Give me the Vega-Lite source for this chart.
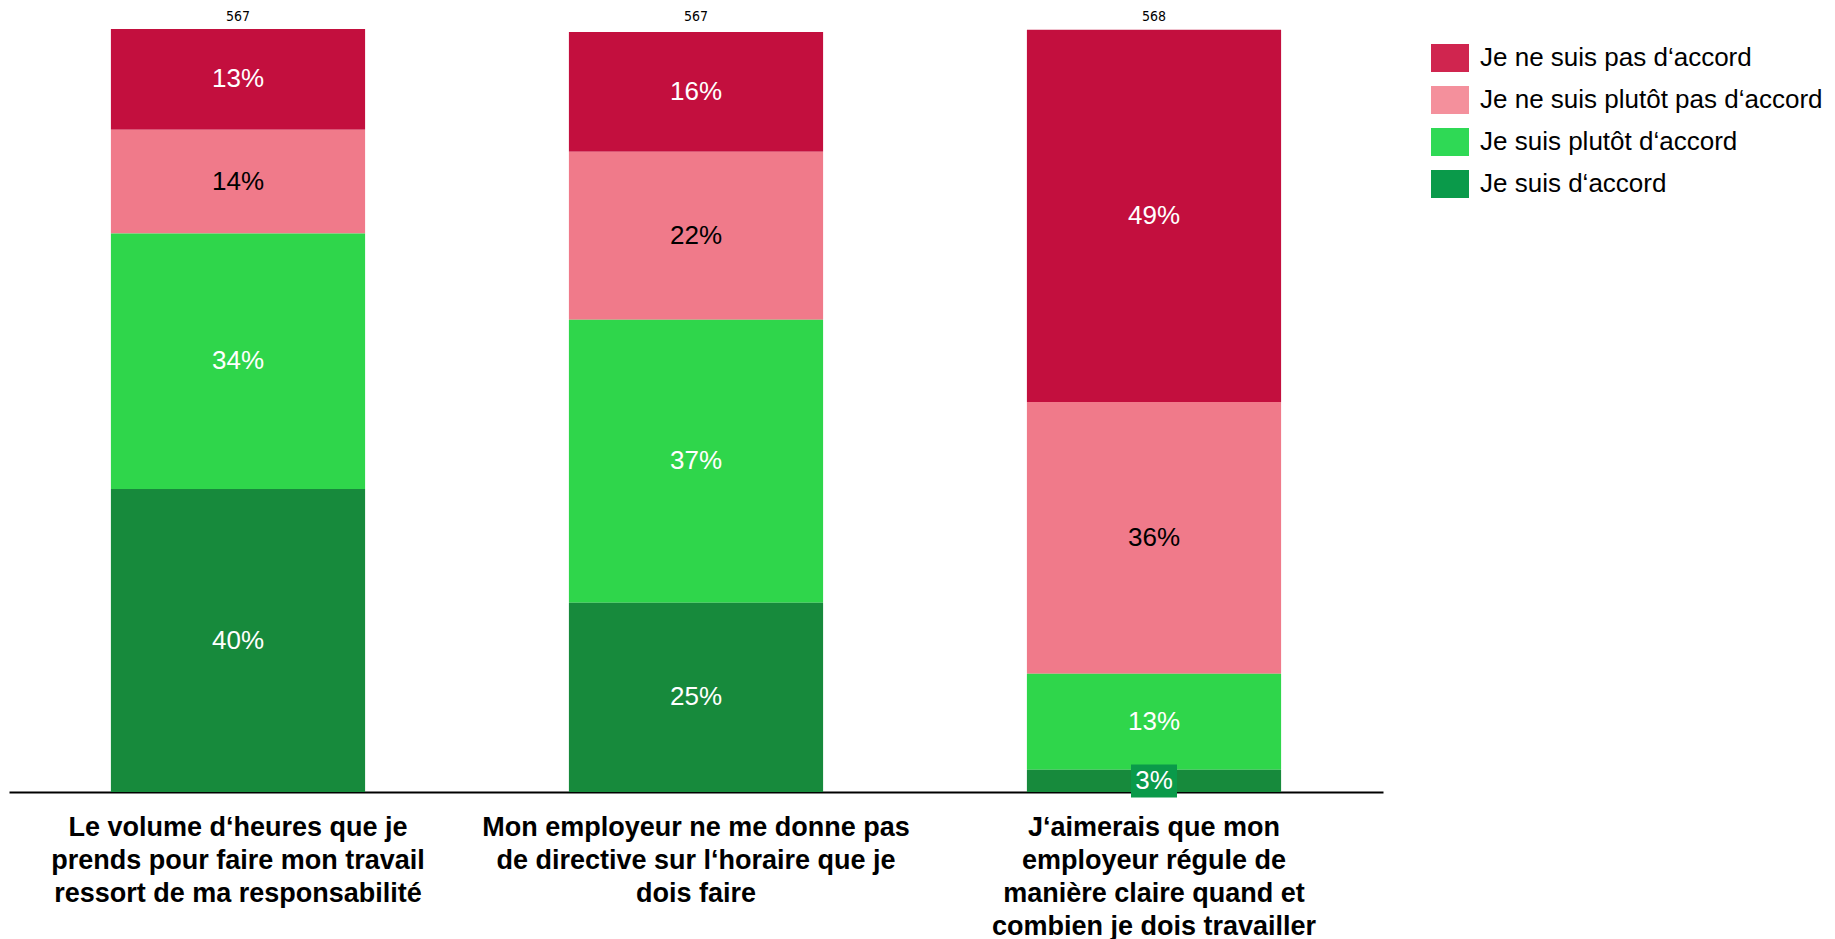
{
  "$schema": "https://vega.github.io/schema/vega-lite/v6.json",
  "width": 1374,
  "height": 763,
  "autosize": {"type": "none"},
  "padding": {"left": 9, "top": 29, "right": 452, "bottom": 147},
  "background": "white",
  "config": {"view": {"stroke": null}, "font": "Liberation Sans"},
  "resolve": {"scale": {"color": "independent"}, "legend": {"color": "independent"}},
  "datasets": {
    "answers": [
      {"question": "Le volume d‘heures que je prends pour faire mon travail ressort de ma responsabilité", "response": "Je ne suis pas d‘accord", "agreement": 1, "share": 0.132},
      {"question": "Le volume d‘heures que je prends pour faire mon travail ressort de ma responsabilité", "response": "Je ne suis plutôt pas d‘accord", "agreement": 2, "share": 0.136},
      {"question": "Le volume d‘heures que je prends pour faire mon travail ressort de ma responsabilité", "response": "Je suis plutôt d‘accord", "agreement": 3, "share": 0.335},
      {"question": "Le volume d‘heures que je prends pour faire mon travail ressort de ma responsabilité", "response": "Je suis d‘accord", "agreement": 4, "share": 0.397},
      {"question": "Mon employeur ne me donne pas de directive sur l‘horaire que je dois faire", "response": "Je ne suis pas d‘accord", "agreement": 1, "share": 0.157},
      {"question": "Mon employeur ne me donne pas de directive sur l‘horaire que je dois faire", "response": "Je ne suis plutôt pas d‘accord", "agreement": 2, "share": 0.22},
      {"question": "Mon employeur ne me donne pas de directive sur l‘horaire que je dois faire", "response": "Je suis plutôt d‘accord", "agreement": 3, "share": 0.371},
      {"question": "Mon employeur ne me donne pas de directive sur l‘horaire que je dois faire", "response": "Je suis d‘accord", "agreement": 4, "share": 0.248},
      {"question": "J‘aimerais que mon employeur régule de manière claire quand et combien je dois travailler", "response": "Je ne suis pas d‘accord", "agreement": 1, "share": 0.488},
      {"question": "J‘aimerais que mon employeur régule de manière claire quand et combien je dois travailler", "response": "Je ne suis plutôt pas d‘accord", "agreement": 2, "share": 0.356},
      {"question": "J‘aimerais que mon employeur régule de manière claire quand et combien je dois travailler", "response": "Je suis plutôt d‘accord", "agreement": 3, "share": 0.126},
      {"question": "J‘aimerais que mon employeur régule de manière claire quand et combien je dois travailler", "response": "Je suis d‘accord", "agreement": 4, "share": 0.029}
    ],
    "totals": [
      {"question": "Le volume d‘heures que je prends pour faire mon travail ressort de ma responsabilité", "n": 567},
      {"question": "Mon employeur ne me donne pas de directive sur l‘horaire que je dois faire", "n": 567},
      {"question": "J‘aimerais que mon employeur régule de manière claire quand et combien je dois travailler", "n": 568}
    ]
  },
  "encoding": {
    "x": {
      "field": "question",
      "type": "nominal",
      "sort": null,
      "scale": {"paddingInner": 0.445, "paddingOuter": 0.2225},
      "axis": {
        "title": null,
        "labelAngle": 0,
        "ticks": false,
        "domainColor": "black",
        "domainWidth": 2,
        "labelFont": "Liberation Sans",
        "labelFontSize": 27,
        "labelFontWeight": "bold",
        "labelColor": "black",
        "labelLineHeight": 33,
        "labelPadding": 22,
        "labelBaseline": "top",
        "labelLimit": 0,
        "labelExpr": "indexof(datum.label, 'Le volume') == 0 ? ['Le volume d‘heures que je', 'prends pour faire mon travail', 'ressort de ma responsabilité'] : indexof(datum.label, 'Mon employeur') == 0 ? ['Mon employeur ne me donne pas', 'de directive sur l‘horaire que je', 'dois faire'] : ['J‘aimerais que mon', 'employeur régule de', 'manière claire quand et', 'combien je dois travailler']"
      }
    }
  },
  "layer": [
    {
      "data": {"name": "answers"},
      "transform": [
        {"stack": "share", "groupby": ["question"], "sort": [{"field": "agreement", "order": "descending"}], "as": ["y0", "y1"]}
      ],
      "mark": {"type": "bar"},
      "encoding": {
        "y": {"field": "y0", "type": "quantitative", "scale": {"domain": [0, 1]}, "axis": null},
        "y2": {"field": "y1"},
        "color": {
          "field": "response",
          "type": "nominal",
          "scale": {
            "domain": ["Je ne suis pas d‘accord", "Je ne suis plutôt pas d‘accord", "Je suis plutôt d‘accord", "Je suis d‘accord"],
            "range": ["#c30f3e", "#f07a8a", "#2fd64b", "#178a3c"]
          },
          "legend": null
        }
      }
    },
    {
      "data": {"name": "answers"},
      "mark": {"type": "point", "filled": true, "size": 0, "opacity": 1},
      "encoding": {
        "y": {"datum": 0.5, "type": "quantitative", "scale": {"domain": [0, 1]}},
        "color": {
          "field": "response",
          "type": "nominal",
          "scale": {
            "domain": ["Je ne suis pas d‘accord", "Je ne suis plutôt pas d‘accord", "Je suis plutôt d‘accord", "Je suis d‘accord"],
            "range": ["#d0254f", "#f4909c", "#2fd955", "#0a9a4a"]
          },
          "legend": {
            "title": null,
            "orient": "none",
            "legendX": 1422,
            "legendY": 10,
            "labelFont": "Liberation Sans",
            "labelFontSize": 26,
            "labelColor": "black",
            "labelLimit": 0,
            "labelOffset": 11,
            "symbolType": "M-1,-0.74L1,-0.74L1,0.74L-1,0.74Z",
            "symbolSize": 1444,
            "symbolStrokeWidth": 0,
            "symbolOpacity": 1,
            "rowPadding": 8
          }
        }
      }
    },
    {
      "data": {"name": "answers"},
      "transform": [
        {"stack": "share", "groupby": ["question"], "sort": [{"field": "agreement", "order": "descending"}], "as": ["y0", "y1"]},
        {"calculate": "(datum.y0 + datum.y1) / 2", "as": "mid"},
        {"filter": "datum.share < 0.05"}
      ],
      "mark": {"type": "point", "shape": "M-1,-0.72L1,-0.72L1,0.72L-1,0.72Z", "size": 2116, "filled": true, "opacity": 1, "color": "#0a9a4a"},
      "encoding": {
        "y": {"field": "mid", "type": "quantitative", "scale": {"domain": [0, 1]}}
      }
    },
    {
      "data": {"name": "answers"},
      "transform": [
        {"stack": "share", "groupby": ["question"], "sort": [{"field": "agreement", "order": "descending"}], "as": ["y0", "y1"]},
        {"calculate": "(datum.y0 + datum.y1) / 2", "as": "mid"}
      ],
      "mark": {"type": "text", "font": "Liberation Sans", "fontSize": 26, "baseline": "middle", "align": "center"},
      "encoding": {
        "y": {"field": "mid", "type": "quantitative", "scale": {"domain": [0, 1]}},
        "text": {"field": "share", "type": "quantitative", "format": ".0%"},
        "color": {
          "condition": {"test": "datum.response == 'Je ne suis plutôt pas d‘accord'", "value": "black"},
          "value": "white"
        }
      }
    },
    {
      "data": {"name": "totals"},
      "mark": {"type": "text", "font": "DejaVu Sans Condensed, Liberation Sans", "fontSize": 14, "baseline": "bottom", "dy": -5, "color": "black"},
      "encoding": {
        "y": {"datum": 1, "type": "quantitative", "scale": {"domain": [0, 1]}},
        "text": {"field": "n", "type": "quantitative"}
      }
    }
  ]
}
